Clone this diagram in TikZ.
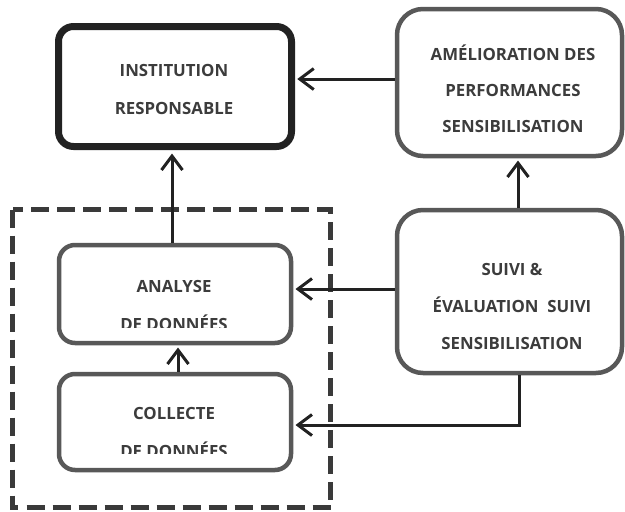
\documentclass[tikz,border=0pt]{standalone}
\usepackage{fontspec}
\setmainfont{Open Sans}
\usetikzlibrary{arrows.meta}

\definecolor{inkdark}{HTML}{222222}
\definecolor{boxgray}{HTML}{585858}
\definecolor{dashgray}{HTML}{3A3A3A}
\definecolor{labelgray}{HTML}{3C3C3C}

\tikzset{
  box/.style={draw=boxgray, line width=4.5pt, fill=white, inner sep=0pt},
  mainbox/.style={draw=inkdark, line width=7pt, fill=white, inner sep=0pt, rounded corners=15pt},
  label/.style={text=labelgray, font=\bfseries\fontsize{16.8}{37}\selectfont, align=center, anchor=base, inner sep=0pt},
  flow/.style={draw=inkdark, line width=3pt,
    -{Straight Barb[length=14pt,width=21pt,line width=3pt]}},
  group/.style={draw=dashgray, line width=5pt, dash pattern=on 18pt off 8pt}
}

\begin{document}
\begin{tikzpicture}[x=1pt,y=-1pt]
\useasboundingbox (0,0) rectangle (625,512);

% dashed group around the data steps
\draw[group] (12.5,209.5) rectangle (330.5,507.5);

% boxes
\node[mainbox, minimum width=233pt, minimum height=120pt] (inst) at (175,86.5) {};
\node[box, rounded corners=26pt, minimum width=225pt, minimum height=147pt] (amel) at (509.5,82.5) {};
\node[box, rounded corners=26pt, minimum width=225pt, minimum height=163pt] (suivi) at (509.5,291.5) {};
\node[box, rounded corners=16pt, minimum width=232pt, minimum height=98pt] (analyse) at (175,294) {};
\node[box, rounded corners=16pt, minimum width=232pt, minimum height=96pt] (collecte) at (175,422) {};

% labels (anchored on the baseline of their last line)
\node[label, font=\bfseries\fontsize{16.8}{38}\selectfont] (instlbl) at (174,114) {INSTITUTION\\RESPONSABLE};
\node[label, font=\bfseries\fontsize{16.8}{36}\selectfont] (amellbl) at (513,132) {AMÉLIORATION DES\\PERFORMANCES\\SENSIBILISATION};
\node[label] (suivilbl) at (512,349) {SUIVI \&\\ÉVALUATION\ \ SUIVI\\SENSIBILISATION};
\begin{scope}
  \clip (60,250) rectangle (290,327);
  \node[label, font=\bfseries\fontsize{16.8}{38}\selectfont] (analyselbl) at (174,330) {ANALYSE\\DE DONNÉES};
\end{scope}
\begin{scope}
  \clip (60,378) rectangle (290,453);
  \node[label, font=\bfseries\fontsize{16.8}{38}\selectfont] (collectelbl) at (174,457) {COLLECTE\\DE DONNÉES};
\end{scope}

% connectors
\draw[flow, shorten >=2.25pt] ([yshift=3.5pt]amel.west) -- ([yshift=3.5pt]amel.west -| inst.east);
\draw[flow, shorten >=2.25pt] ([xshift=8.5pt]suivi.north) -- ([xshift=8.5pt]amel.south);
\draw[flow, shorten >=3.5pt] ([xshift=-3pt]analyse.north) -- ([xshift=-3pt]inst.south);
\draw[flow, shorten >=2.25pt] ([xshift=3pt]collecte.north) -- ([xshift=3pt]analyse.south);
\draw[flow, shorten >=2.25pt] ([yshift=2.5pt]suivi.west) -- ([yshift=2.5pt]suivi.west -| analyse.east);
\draw[flow, shorten >=2.25pt] ([xshift=9.5pt]suivi.south) |- ([yshift=-3pt]collecte.east);
\end{tikzpicture}
\end{document}
